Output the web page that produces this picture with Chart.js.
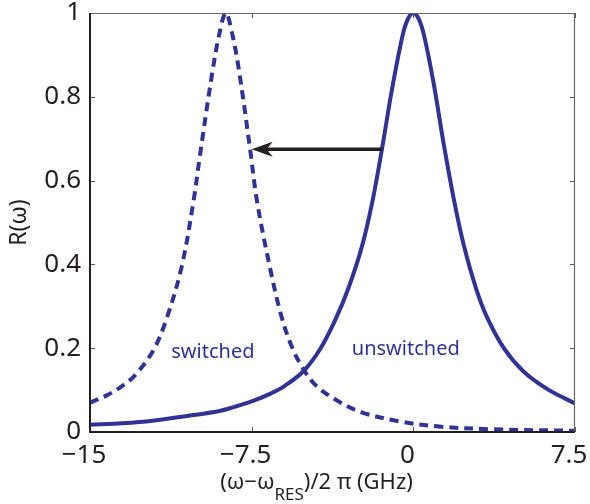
<!DOCTYPE html>
<html>
<head>
<meta charset="utf-8">
<script src="https://cdn.jsdelivr.net/npm/chart.js@4/dist/chart.umd.min.js"></script>
<style>
    html, body { margin: 0; padding: 0; background: #fff; }
    #wrap { width: 590px; height: 504px; }
</style>
</head>
<body>
<div id="wrap"><canvas id="chartReflection"></canvas></div>
<script>
    // values
    var unswitchedX = [-15, -13.5, -12.1, -10.5, -9, -8.3, -7.5, -6.65, -6, -5.1, -4.3, -3.6, -3, -2.4, -1.9, -1.45, -1, -0.5, -0.25, 0, 0.25, 0.5, 0.95, 1.4, 1.9, 2.35, 2.9, 3.4, 4.2, 5.1, 6.2, 7.5];
    var unswitchedR = [0.017, 0.021, 0.027, 0.038, 0.05, 0.06, 0.073, 0.091, 0.109, 0.145, 0.2, 0.27, 0.345, 0.44, 0.55, 0.677, 0.815, 0.946, 0.986, 1.0, 0.986, 0.946, 0.83, 0.69, 0.55, 0.444, 0.344, 0.276, 0.2, 0.145, 0.103, 0.068];

    var switchedX = [-15, -14.2, -13.5, -12.9, -12.05, -11.45, -10.75, -10.2, -9.9, -9.35, -9.0, -8.7, -8.4, -8.08, -7.58, -7.25, -6.65, -6.14, -5.65, -5.1, -4.5, -3.56, -2.4, -0.6, 1.2, 3.7, 7.5];
    var switchedR = [0.07, 0.088, 0.11, 0.136, 0.196, 0.27, 0.394, 0.55, 0.66, 0.85, 0.95, 1.0, 0.95, 0.86, 0.678, 0.55, 0.392, 0.28, 0.205, 0.15, 0.11, 0.076, 0.047, 0.025, 0.013, 0.0064, 0.003];

    var xTicks = [-15, -7.5, 0, 7.5];
    var yTicks = [0, 0.2, 0.4, 0.6, 0.8, 1];

    var curveLabels = ['switched', 'unswitched'];
    var curveLabelX = [-9.3, -0.35];
    var curveLabelR = [0.19, 0.198];

    var arrowFrom = [-1.45, 0.675];
    var arrowTo = [-7.5, 0.675];

    var lineBlue = 'rgb(48, 50, 150)';
    var fontName = '"Noto Sans", "Open Sans", sans-serif';

    function toPoints(xs, ys) {
        var pts = [];
        for (var i = 0; i < xs.length; i++) {
            pts.push({x: xs[i], y: ys[i]});
        }
        return pts;
    }

    function fmtTick(v) {
        var s = String(v);
        return s.replace('-', '\u2212');
    }

    // box, inward ticks, arrow, curve labels and the x title with subscript
    var decorPlugin = {
        id: 'decor',
        afterDatasetsDraw: function (chart) {
            var ctx = chart.ctx;
            var area = chart.chartArea;
            var xs = chart.scales.x;
            var ys = chart.scales.y;
            ctx.save();

            ctx.strokeStyle = '#555';
            ctx.lineWidth = 1;
            ctx.beginPath();
            xTicks.forEach(function (t) {
                var px = Math.round(xs.getPixelForValue(t)) + 0.5;
                ctx.moveTo(px, area.bottom); ctx.lineTo(px, area.bottom - 5);
                ctx.moveTo(px, area.top); ctx.lineTo(px, area.top + 5);
            });
            yTicks.forEach(function (t) {
                var py = Math.round(ys.getPixelForValue(t)) + 0.5;
                ctx.moveTo(area.left, py); ctx.lineTo(area.left + 5, py);
                ctx.moveTo(area.right, py); ctx.lineTo(area.right - 5, py);
            });
            ctx.stroke();

            ctx.strokeStyle = '#666';
            ctx.lineWidth = 1.2;
            ctx.beginPath();
            ctx.moveTo(area.left, area.top + 0.5); ctx.lineTo(area.right, area.top + 0.5);
            ctx.moveTo(area.right - 0.5, area.top); ctx.lineTo(area.right - 0.5, area.bottom);
            ctx.stroke();

            ctx.strokeStyle = '#231f20';
            ctx.lineWidth = 2;
            ctx.beginPath();
            ctx.moveTo(area.left, area.top); ctx.lineTo(area.left, area.bottom);
            ctx.lineTo(area.right, area.bottom);
            ctx.stroke();

            // arrow
            var x0 = xs.getPixelForValue(arrowFrom[0]);
            var y0 = ys.getPixelForValue(arrowFrom[1]);
            var x1 = xs.getPixelForValue(arrowTo[0]);
            var y1 = ys.getPixelForValue(arrowTo[1]);
            ctx.strokeStyle = '#231f20';
            ctx.fillStyle = '#231f20';
            ctx.lineWidth = 3.4;
            ctx.beginPath();
            ctx.moveTo(x0, y0); ctx.lineTo(x1 + 12, y1);
            ctx.stroke();
            ctx.beginPath();
            ctx.moveTo(x1, y1);
            ctx.lineTo(x1 + 21, y1 - 7.5);
            ctx.lineTo(x1 + 15, y1);
            ctx.lineTo(x1 + 21, y1 + 7.5);
            ctx.closePath();
            ctx.fill();

            // curve labels
            ctx.fillStyle = lineBlue;
            ctx.font = '20px ' + fontName;
            ctx.textAlign = 'center';
            ctx.textBaseline = 'middle';
            for (var i = 0; i < curveLabels.length; i++) {
                ctx.fillText(curveLabels[i], xs.getPixelForValue(curveLabelX[i]), ys.getPixelForValue(curveLabelR[i]));
            }

            // x axis title
            ctx.fillStyle = '#231f20';
            ctx.textBaseline = 'alphabetic';
            ctx.textAlign = 'left';
            var big = '22px ' + fontName;
            var small = '17px ' + fontName;
            var p1 = '(\u03c9\u2212\u03c9';
            var p2 = 'RES';
            var p3 = ')/2 \u03c0 (GHz)';
            ctx.font = big;
            var w1 = ctx.measureText(p1).width;
            var w3 = ctx.measureText(p3).width;
            ctx.font = small;
            var w2 = ctx.measureText(p2).width;
            var total = w1 + w2 + w3;
            var cx = (area.left + area.right) / 2 - 16;
            var sx = cx - total / 2;
            var base = 489;
            ctx.font = big;
            ctx.fillText(p1, sx, base);
            ctx.font = small;
            ctx.fillText(p2, sx + w1, base + 11);
            ctx.font = big;
            ctx.fillText(p3, sx + w1 + w2, base);
            ctx.restore();
        }
    };

    var chartReflection = document.getElementById('chartReflection');

    var reflectionData = {
        datasets: [{
                label: 'unswitched',
                data: toPoints(unswitchedX, unswitchedR),
                borderColor: lineBlue,
                borderWidth: 4,
                pointRadius: 0,
                tension: 0.35,
                fill: false
            }, {
                label: 'switched',
                data: toPoints(switchedX, switchedR),
                borderColor: lineBlue,
                borderWidth: 4,
                borderDash: [9, 6],
                pointRadius: 0,
                tension: 0.35,
                fill: false
            }]
    };

    var chartOptions = {
        responsive: true,
        maintainAspectRatio: false,
        animation: false,
        layout: {padding: {top: 13, right: 15, left: 0, bottom: 0}},
        plugins: {
            legend: {display: false},
            tooltip: {enabled: false}
        },
        scales: {
            x: {
                type: 'linear',
                min: -15,
                max: 7.5,
                afterBuildTicks: function (axis) {
                    axis.ticks = xTicks.map(function (v) { return {value: v}; });
                },
                afterFit: function (axis) {
                    axis.height = 72;
                    axis.paddingLeft = 0;
                    axis.paddingRight = 0;
                },
                grid: {display: false, drawTicks: false},
                border: {display: false},
                ticks: {
                    color: '#231f20',
                    font: {family: fontName, size: 26},
                    padding: 8,
                    labelOffset: -6,
                    maxRotation: 0,
                    callback: function (v) { return fmtTick(v); }
                }
            },
            y: {
                type: 'linear',
                min: 0,
                max: 1,
                afterBuildTicks: function (axis) {
                    axis.ticks = yTicks.map(function (v) { return {value: v}; });
                },
                afterFit: function (axis) {
                    axis.width = 90;
                    axis.paddingTop = 0;
                    axis.paddingBottom = 0;
                },
                grid: {display: false, drawTicks: false},
                border: {display: false},
                ticks: {
                    color: '#231f20',
                    font: {family: fontName, size: 26},
                    padding: 9,
                    callback: function (v) { return fmtTick(v); }
                },
                title: {
                    display: true,
                    text: 'R(\u03c9)',
                    color: '#231f20',
                    font: {family: fontName, size: 23},
                    padding: {top: 6, bottom: 0}
                }
            }
        }
    };

    var reflectionChart = new Chart(chartReflection, {
        type: 'line',
        data: reflectionData,
        options: chartOptions,
        plugins: [decorPlugin]
    });
</script>
</body>
</html>
